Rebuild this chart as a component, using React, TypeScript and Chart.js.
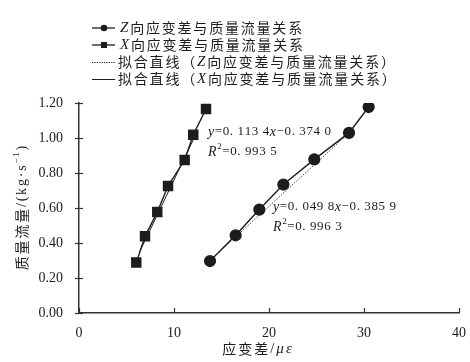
import React, { useEffect, useRef } from "react";
import { Chart, registerables } from "chart.js";

Chart.register(...registerables);

// ---- data ----
const xStrainX = [6.03, 6.95, 8.24, 9.37, 11.12, 12.03, 13.37];
const flowX = [0.288, 0.438, 0.577, 0.726, 0.874, 1.019, 1.166];
const zStrainZ = [13.79, 16.49, 18.98, 21.51, 24.77, 28.42, 30.49];
const flowZ = [0.297, 0.444, 0.591, 0.734, 0.878, 1.029, 1.177];
const fitZx = [13.8, 28.4];
const fitZy = [0.301, 1.028];
const fitXx = [6.4, 12.3];
const fitXy = [0.352, 1.021];
const xTicks = [0, 10, 20, 30, 40];
const yTicks = [0, 0.2, 0.4, 0.6, 0.8, 1.0, 1.2];
const eqX = ["=0. 113 4", "\u22120. 374 0", "=0. 993 5"];
const eqZ = ["=0. 049 8", "\u22120. 385 9", "=0. 996 3"];
const legendNames = [
  ["Z", "向应变差与质量流量关系"],
  ["X", "向应变差与质量流量关系"],
  ["拟合直线（", "Z", "向应变差与质量流量关系）"],
  ["拟合直线（", "X", "向应变差与质量流量关系）"],
];
const xTitle = ["应变差", "/", "με"];
const yTitle = ["质量流量", "/(kg·s", "\u22121", ")"];

const INK = "#1c1c1c";
const AXIS = "#333333";
const CJK = '"Noto Sans CJK SC", sans-serif';
const SERIF = '"Liberation Serif", "DejaVu Serif", serif';

type Seg = { t: string; f: string; dy?: number };

function measureRich(ctx: CanvasRenderingContext2D, segs: Seg[], sp: number) {
  let w = 0;
  segs.forEach((s) => {
    ctx.font = s.f;
    for (const ch of s.t) w += ctx.measureText(ch).width + sp;
  });
  return w - sp;
}

function drawRich(ctx: CanvasRenderingContext2D, segs: Seg[], x: number, y: number, sp: number) {
  let cx = x;
  segs.forEach((s) => {
    ctx.font = s.f;
    for (const ch of s.t) {
      ctx.fillText(ch, cx, y + (s.dy || 0));
      cx += ctx.measureText(ch).width + sp;
    }
  });
  return cx;
}

const overlay = {
  id: "overlay",
  afterDraw(chart: any) {
    const ctx: CanvasRenderingContext2D = chart.ctx;
    const xs = chart.scales.x;
    const ys = chart.scales.y;
    ctx.save();
    // ticks
    ctx.strokeStyle = AXIS;
    ctx.lineWidth = 1.2;
    ys.ticks.forEach((t: any) => {
      const p = Math.round(ys.getPixelForValue(t.value)) + 0.5;
      ctx.beginPath();
      ctx.moveTo(xs.left - 4, p);
      ctx.lineTo(xs.left + 4, p);
      ctx.stroke();
    });
    xs.ticks.forEach((t: any) => {
      const p = Math.round(xs.getPixelForValue(t.value)) + 0.5;
      ctx.beginPath();
      ctx.moveTo(p, ys.bottom);
      ctx.lineTo(p, ys.bottom - 5);
      ctx.stroke();
    });

    ctx.fillStyle = INK;
    ctx.textBaseline = "middle";
    ctx.textAlign = "left";
    const cj = `14px ${CJK}`;
    const it = `italic 15px ${SERIF}`;

    // legend
    const rows = [28, 45, 62, 79];
    const lx0 = 92, lx1 = 115, tx = 120;
    ctx.strokeStyle = INK;
    // row 1: line + circle
    ctx.lineWidth = 1.3;
    ctx.setLineDash([]);
    ctx.beginPath(); ctx.moveTo(lx0, rows[0]); ctx.lineTo(lx1, rows[0]); ctx.stroke();
    ctx.beginPath(); ctx.arc(104, rows[0], 3.3, 0, Math.PI * 2); ctx.fill();
    // row 2: line + square
    ctx.beginPath(); ctx.moveTo(lx0, rows[1]); ctx.lineTo(lx1, rows[1]); ctx.stroke();
    ctx.fillRect(101, rows[1] - 3, 6, 6);
    // row 3: dotted
    ctx.lineWidth = 1;
    ctx.setLineDash([1.2, 1.2]);
    ctx.beginPath(); ctx.moveTo(lx0, rows[2] + 0.5); ctx.lineTo(lx1, rows[2] + 0.5); ctx.stroke();
    // row 4: solid
    ctx.setLineDash([]);
    ctx.beginPath(); ctx.moveTo(lx0, rows[3] + 0.5); ctx.lineTo(lx1, rows[3] + 0.5); ctx.stroke();

    drawRich(ctx, [{ t: legendNames[0][0], f: it }, { t: legendNames[0][1], f: cj }], tx, rows[0], 1.8);
    drawRich(ctx, [{ t: legendNames[1][0], f: it }, { t: legendNames[1][1], f: cj }], tx, rows[1], 1.8);
    drawRich(ctx, [{ t: legendNames[2][0], f: cj }, { t: legendNames[2][1], f: it }, { t: legendNames[2][2], f: cj }], tx - 2, rows[2], 1.8);
    drawRich(ctx, [{ t: legendNames[3][0], f: cj }, { t: legendNames[3][1], f: it }, { t: legendNames[3][2], f: cj }], tx - 2, rows[3], 1.8);

    // equations
    const ef = `13px ${SERIF}`;
    const ei = `italic 14px ${SERIF}`;
    const sup = `9px ${SERIF}`;
    const eq = (vals: string[], x: number, y: number) => {
      drawRich(ctx, [{ t: "y", f: ei }, { t: vals[0], f: ef }, { t: "x", f: ei }, { t: vals[1], f: ef }], x, y, 0.6);
      drawRich(ctx, [{ t: "R", f: ei }, { t: "2", f: sup, dy: -5 }, { t: vals[2], f: ef }], x, y + 20, 0.6);
    };
    eq(eqX, 208, 132);
    eq(eqZ, 273, 207);

    // x title
    const xt: Seg[] = [{ t: xTitle[0], f: cj }, { t: xTitle[1], f: `15px ${SERIF}` }, { t: xTitle[2], f: it }];
    const xw = measureRich(ctx, xt, 2);
    drawRich(ctx, xt, 257 - xw / 2, 349, 2);

    // y title
    const yt: Seg[] = [
      { t: yTitle[0], f: cj },
      { t: yTitle[1], f: `14px ${SERIF}` },
      { t: yTitle[2], f: sup, dy: -5 },
      { t: yTitle[3], f: `14px ${SERIF}` },
    ];
    const yw = measureRich(ctx, yt, 1.8);
    ctx.translate(22, (ys.top + ys.bottom) / 2);
    ctx.rotate(-Math.PI / 2);
    drawRich(ctx, yt, -yw / 2, 0, 1.8);
    ctx.restore();
  },
};

export default function App() {
  const ref = useRef<HTMLCanvasElement | null>(null);
  useEffect(() => {
    document.body.style.margin = "0";
    if (!ref.current) return;
    const pts = (xs: number[], ys: number[]) => xs.map((x, i) => ({ x, y: ys[i] }));
    const chart = new Chart(ref.current, {
      type: "scatter",
      data: {
        datasets: [
          {
            label: "Z向应变差与质量流量关系",
            data: pts(zStrainZ, flowZ),
            showLine: true,
            borderColor: INK,
            backgroundColor: INK,
            borderWidth: 1.4,
            pointStyle: "circle",
            pointRadius: 5.4,
          },
          {
            label: "X向应变差与质量流量关系",
            data: pts(xStrainX, flowX),
            showLine: true,
            borderColor: INK,
            backgroundColor: INK,
            borderWidth: 1.4,
            pointStyle: "rect",
            pointRadius: 6.4,
          },
          {
            label: "拟合直线（Z向应变差与质量流量关系）",
            data: pts(fitZx, fitZy),
            showLine: true,
            borderColor: "#444",
            borderWidth: 1,
            borderDash: [1.5, 1.5],
            pointRadius: 0,
          },
          {
            label: "拟合直线（X向应变差与质量流量关系）",
            data: pts(fitXx, fitXy),
            showLine: true,
            borderColor: INK,
            borderWidth: 1,
            pointRadius: 0,
          },
        ],
      } as any,
      options: {
        animation: false,
        responsive: false,
        devicePixelRatio: 1,
        layout: { padding: { top: 103, right: 11, left: 0, bottom: 0 } },
        plugins: { legend: { display: false }, tooltip: { enabled: false } },
        scales: {
          x: {
            type: "linear",
            min: 0,
            max: 40,
            afterBuildTicks: (s: any) => { s.ticks = xTicks.map((v) => ({ value: v })); },
            ticks: { color: INK, font: { family: SERIF, size: 14 }, padding: 4, maxRotation: 0 },
            grid: { display: false },
            border: { color: AXIS, width: 1.5 },
            afterFit: (s: any) => { s.height = 49; },
          },
          y: {
            type: "linear",
            min: 0,
            max: 1.2,
            afterBuildTicks: (s: any) => { s.ticks = yTicks.map((v) => ({ value: v })); },
            ticks: {
              color: INK,
              font: { family: SERIF, size: 14 },
              padding: 8,
              callback: (v: any) => Number(v).toFixed(2),
            },
            grid: { display: false },
            border: { color: AXIS, width: 1.5 },
            afterFit: (s: any) => { s.width = 79; },
          },
        },
      } as any,
      plugins: [overlay],
    });
    return () => chart.destroy();
  }, []);
  return (
    <div style={{ width: 470, height: 362, background: "#fff" }}>
      <canvas ref={ref} width={470} height={362} />
    </div>
  );
}
